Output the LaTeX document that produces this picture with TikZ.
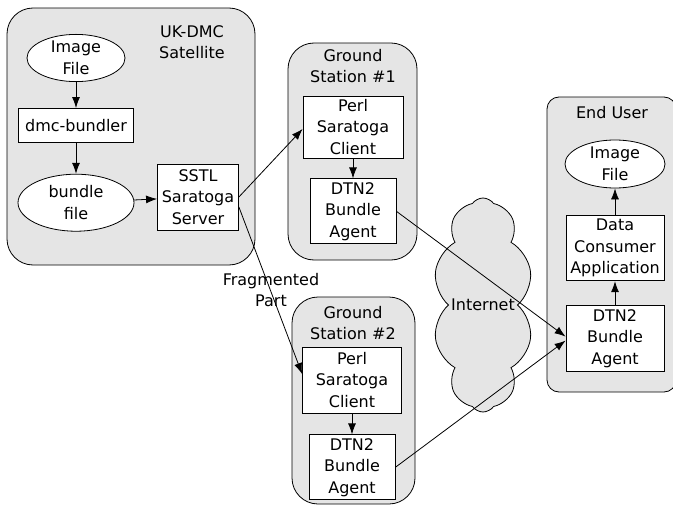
\documentclass[tikz,border=0pt]{standalone}
\usepackage{fontspec}
\setmainfont{DejaVu Sans}
\usepackage{tikz}
\usetikzlibrary{positioning,shapes.geometric,shapes.symbols,arrows.meta}

\begin{document}
\begin{tikzpicture}[x=1pt, y=-1pt, >={Latex[length=11pt,width=8pt]},
                      every node/.style={align=center, font=\fontsize{16}{21.5}\selectfont},
                      every path/.style={line width=0.8pt},
                      box/.style={draw, fill=white, inner sep=2pt},
                      oval/.style={draw, ellipse, fill=white, inner sep=0pt},
                      group/.style={draw, fill=gray!20, rounded corners=26pt},
                      cloudy/.style={draw, cloud, cloud puffs=10, cloud puff arc=110, cloud ignores aspect,
                                     fill=gray!20, minimum width=100pt, minimum height=214pt}]
  \useasboundingbox (0,0) rectangle (673,506);
  % containers
  \node[group, minimum width=248pt, minimum height=257pt] (sat) at (131,136.5) {};
  \node[group, minimum width=129pt, minimum height=217pt] (gs1) at (352.5,151.5) {};
  \node[group, minimum width=123pt, minimum height=207pt] (gs2) at (353.5,400.5) {};
  \node[group, rounded corners=12pt, minimum width=129pt, minimum height=295pt] (user) at (611.5,244.5) {};
  \node[cloudy] (inet) at (483,305) {Internet};
  \node (satt) at (192,42) {UK-DMC\\Satellite};
  \node (gs1t) at (353,66) {Ground\\Station \#1};
  \node (gs2t) at (353,323) {Ground\\Station \#2};
  \node (usert) at (612,113) {End User};
  % satellite
  \node[oval, minimum width=98pt, minimum height=47pt] (img1) at (76,58) {Image\\File};
  \node[box, minimum width=115pt, minimum height=34pt, below=26pt of img1] (bundler) {dmc-bundler};
  \node[oval, minimum width=116pt, minimum height=57pt, below=31pt of bundler] (bfile) {bundle\\file};
  \node[box, minimum width=81pt, minimum height=66pt] (sstl) at (198,197) {SSTL\\Saratoga\\Server};
  % ground stations
  \node[box, minimum width=100pt, minimum height=62pt] (perl1) at (353,127) {Perl\\Saratoga\\Client};
  \node[box, minimum width=86pt, minimum height=65pt, below=20pt of perl1] (dtn1) {DTN2\\Bundle\\Agent};
  \node[box, minimum width=99pt, minimum height=66pt] (perl2) at (352,380) {Perl\\Saratoga\\Client};
  \node[box, minimum width=86pt, minimum height=65pt, below=21pt of perl2] (dtn2) {DTN2\\Bundle\\Agent};
  % end user
  \node[oval, minimum width=100pt, minimum height=48pt] (img2) at (615,164) {Image\\File};
  \node[box, minimum width=98pt, minimum height=65pt, below=27pt of img2] (dca) {Data\\Consumer\\Application};
  \node[box, minimum width=98pt, minimum height=66pt, below=24pt of dca] (dtnu) {DTN2\\Bundle\\Agent};
  \node (frag) at (271,290) {Fragmented\\Part};
  % links
  \draw[->] (img1) -- (bundler);
  \draw[->] (bundler) -- (bfile);
  \draw[->] (bfile) -- (sstl);
  \draw[->] (sstl.east) -- ([yshift=-2pt]perl1.west);
  \draw[->] ([yshift=-10pt]sstl.east) -- ([yshift=6pt]perl2.west);
  \draw[->] (perl1) -- (dtn1);
  \draw[->] (perl2) -- (dtn2);
  \draw[->] (dtn1.east) -- ([yshift=2pt]dtnu.west);
  \draw[->] (dtn2.east) -- ([yshift=-2pt]dtnu.west);
  \draw[->] (dtnu) -- (dca);
  \draw[->] (dca) -- (img2);
\end{tikzpicture}
\end{document}
